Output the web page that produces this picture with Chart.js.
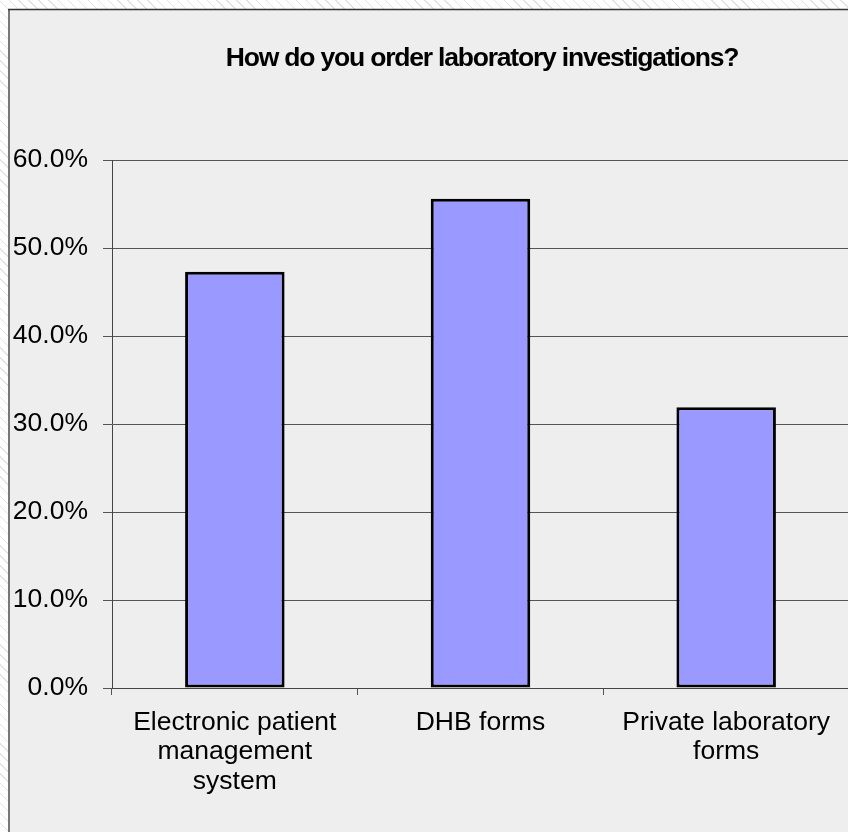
<!DOCTYPE html>
<html>
<head>
<meta charset="utf-8">
<script src="https://cdn.jsdelivr.net/npm/chart.js@4/dist/chart.umd.min.js"></script>
<style>
  html, body { margin: 0; padding: 0; overflow: hidden; width: 848px; height: 832px; }
  body {
    background: repeating-linear-gradient(45deg, #ffffff 0px, #ffffff 6px, #e2e2e2 6px, #e2e2e2 7px);
  }
  #wrap { position: absolute; left: 0; top: 0; width: 964px; height: 832px; }
  canvas { display: block; }
</style>
</head>
<body>
<div id="wrap"><canvas id="c" width="964" height="832" style="width:964px;height:832px"></canvas></div>
<script>
const titleText = 'How do you order laboratory investigations?';
const categories = [
  ['Electronic patient', 'management', 'system'],
  'DHB forms',
  ['Private laboratory', 'forms']
];
const percentValues = [47.3, 55.6, 31.9];
const yTickValues = [0, 10, 20, 30, 40, 50, 60];

const FONT = "'Liberation Sans', Arial, sans-serif";
const W = 964, H = 832;

const chartBox = {
  id: 'chartBox',
  beforeDraw(chart) {
    const ctx = chart.ctx;
    ctx.save();
    ctx.fillStyle = '#eeeeee';
    ctx.fillRect(8, 9, W, H);
    ctx.strokeStyle = '#777777';
    ctx.lineWidth = 2;
    ctx.beginPath();
    ctx.moveTo(9, 9);
    ctx.lineTo(9, H);
    ctx.stroke();
    ctx.strokeStyle = '#333333';
    ctx.lineWidth = 1.5;
    ctx.beginPath();
    ctx.moveTo(8, 9.5);
    ctx.lineTo(W, 9.5);
    ctx.stroke();
    ctx.restore();

    // tighten the letter spacing of the title only
    const tb = chart.titleBlock;
    if (tb && !tb._spacingWrapped) {
      const orig = tb.draw.bind(tb);
      tb.draw = function (area) {
        const c = chart.ctx;
        const has = 'letterSpacing' in c;
        if (has) c.letterSpacing = '-1.2px';
        orig(area);
        if (has) c.letterSpacing = '0px';
      };
      tb._spacingWrapped = true;
    }
  }
};

new Chart(document.getElementById('c'), {
  type: 'bar',
  data: {
    labels: categories,
    datasets: [{
      data: percentValues,
      backgroundColor: '#9999ff',
      borderColor: '#000000',
      borderWidth: 3,
      borderSkipped: false,
      categoryPercentage: 1.0,
      barPercentage: 0.405
    }]
  },
  options: {
    responsive: false,
    animation: false,
    devicePixelRatio: 1,
    layout: { padding: 0 },
    plugins: {
      legend: { display: false },
      tooltip: { enabled: false },
      title: {
        display: true,
        text: titleText,
        color: '#000000',
        font: { family: FONT, size: 26.5, weight: 'bold', lineHeight: 1.2 },
        padding: { top: 43, bottom: 85.2 }
      }
    },
    scales: {
      x: {
        position: 'bottom',
        grid: {
          display: true,
          offset: true,
          drawOnChartArea: false,
          drawTicks: true,
          tickLength: 7,
          color: '#555555',
          lineWidth: 1
        },
        border: { display: true, color: '#444444', width: 1 },
        ticks: {
          color: '#000000',
          font: { family: FONT, size: 26.5, lineHeight: 1.11 },
          padding: 13,
          maxRotation: 0,
          autoSkip: false
        },
        afterFit(scale) { scale.height = H - 688; }
      },
      y: {
        position: 'left',
        min: 0,
        max: 60,
        afterBuildTicks(scale) { scale.ticks = yTickValues.map(v => ({ value: v })); },
        grid: {
          color: '#555555',
          lineWidth: 1,
          drawTicks: true,
          tickLength: 9
        },
        border: { display: true, color: '#444444', width: 1 },
        ticks: {
          color: '#000000',
          font: { family: FONT, size: 26.5 },
          padding: 15,
          callback: v => Number(v).toFixed(1) + '%'
        },
        afterFit(scale) { scale.width = 112; }
      },
      yRight: {
        position: 'right',
        display: true,
        grid: { display: false, drawTicks: false },
        border: { display: false },
        ticks: { display: false },
        afterFit(scale) { scale.width = W - 849; }
      }
    }
  },
  plugins: [chartBox]
});
</script>
</body>
</html>
